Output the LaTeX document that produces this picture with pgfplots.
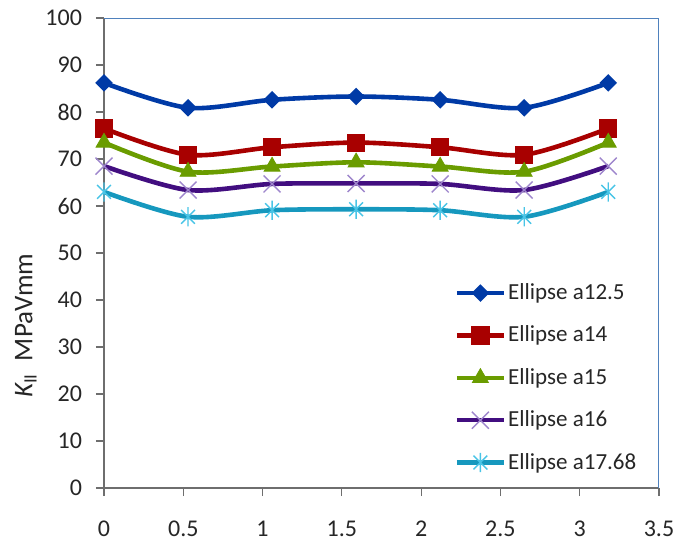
\documentclass[border=0pt]{standalone}
\usepackage{pgfplots}
\pgfplotsset{compat=1.18}
\usepackage{fontspec}
\setmainfont{Carlito}
\usetikzlibrary{plotmarks}

\definecolor{cBlue}{RGB}{0,58,166}
\definecolor{cRed}{RGB}{168,0,0}
\definecolor{cGreen}{RGB}{106,156,0}
\definecolor{cPurple}{RGB}{66,14,128}
\definecolor{cPurpleM}{RGB}{158,134,204}
\definecolor{cCyan}{RGB}{22,152,190}
\definecolor{cCyanM}{RGB}{72,196,230}
\definecolor{frameBlue}{RGB}{79,129,189}
\definecolor{axisGray}{RGB}{110,110,110}

% square-proportioned diamond
\pgfdeclareplotmark{sqdiamond}{%
  \pgfpathmoveto{\pgfqpoint{0pt}{\pgfplotmarksize}}%
  \pgfpathlineto{\pgfqpoint{\pgfplotmarksize}{0pt}}%
  \pgfpathlineto{\pgfqpoint{0pt}{-\pgfplotmarksize}}%
  \pgfpathlineto{\pgfqpoint{-\pgfplotmarksize}{0pt}}%
  \pgfpathclose\pgfusepathqfill}
% vertical bar plus diagonal cross
\pgfdeclareplotmark{xstar}{%
  \pgfpathmoveto{\pgfqpoint{0pt}{\pgfplotmarksize}}%
  \pgfpathlineto{\pgfqpoint{0pt}{-\pgfplotmarksize}}%
  \pgfpathmoveto{\pgfqpoint{-.72\pgfplotmarksize}{-.72\pgfplotmarksize}}%
  \pgfpathlineto{\pgfqpoint{.72\pgfplotmarksize}{.72\pgfplotmarksize}}%
  \pgfpathmoveto{\pgfqpoint{-.72\pgfplotmarksize}{.72\pgfplotmarksize}}%
  \pgfpathlineto{\pgfqpoint{.72\pgfplotmarksize}{-.72\pgfplotmarksize}}%
  \pgfusepathqstroke}

\pgfplotstableread{
x      a125  a14   a15   a16   a1768
0      86.2  76.5  73.5  68.5  63.0
0.53   80.9  70.9  67.3  63.4  57.7
1.06   82.6  72.5  68.4  64.7  59.1
1.59   83.3  73.5  69.3  64.8  59.3
2.12   82.6  72.5  68.4  64.7  59.1
2.65   80.9  70.9  67.3  63.4  57.7
3.18   86.2  76.5  73.5  68.5  63.0
}\kdata

\begin{document}
\begin{tikzpicture}
\begin{axis}[
  scale only axis,
  width=277.5pt, height=235pt,
  xmin=0, xmax=3.5, ymin=0, ymax=100,
  xtick={0,0.5,...,3.5},
  ytick={0,10,...,100},
  axis lines=left,
  axis line style={-, draw=axisGray, line width=0.6pt},
  tick align=outside,
  major tick length=4pt,
  tick style={axisGray, line width=0.6pt},
  ticklabel style={font=\fontsize{12}{14}\selectfont, text=black!85},
  /pgf/number format/assume math mode=true,
  xticklabel style={yshift=-9pt},
  xticklabel={\pgfmathprintnumber[fixed,precision=1]{\tick}},
  yticklabel style={xshift=-3.5pt},
  ylabel={{\itshape K}\textsubscript{II}\ \ MPaVmm},
  ylabel style={at={(ticklabel cs:0.345)}, font=\fontsize{13.5}{15}\selectfont, text=black!85, yshift=-2.5pt},
  every axis plot/.append style={line width=2.3pt, smooth, tension=0.5},
  legend style={at={(rel axis cs:0.631,0.44)}, anchor=north west,
    draw=none, fill=none, font=\fontsize{11.5}{13}\selectfont,
    row sep=9.7pt, inner sep=0pt,
    nodes={inner sep=1pt, text=black!85}},
  legend cell align=left,
  legend image code/.code={%
    \draw[mark repeat=2,mark phase=2] plot coordinates {(0pt,0pt) (11.75pt,0pt) (23.5pt,0pt)};},
]
\addplot[cBlue, mark=sqdiamond, mark size=4.4pt, mark options={solid, fill=cBlue}]
  table[x=x, y=a125] {\kdata};
\addlegendentry{Ellipse a12.5}
\addplot[cRed, mark=square*, mark size=4.3pt, mark options={solid, fill=cRed, draw=cRed, line width=0.4pt}]
  table[x=x, y=a14] {\kdata};
\addlegendentry{Ellipse a14}
\addplot[cGreen, mark=triangle*, mark size=4.6pt, mark options={solid, fill=cGreen, draw=cGreen, line width=0.4pt}]
  table[x=x, y=a15] {\kdata};
\addlegendentry{Ellipse a15}
\addplot[cPurple, mark=x, mark size=6pt, mark options={solid, draw=cPurpleM, line width=0.7pt}]
  table[x=x, y=a16] {\kdata};
\addlegendentry{Ellipse a16}
\addplot[cCyan, mark=xstar, mark size=4.8pt, mark options={solid, draw=cCyanM, line width=0.7pt}]
  table[x=x, y=a1768] {\kdata};
\addlegendentry{Ellipse a17.68}
% top and right sides of the plot frame
\draw[frameBlue, line width=0.8pt] (rel axis cs:0,1) -- (rel axis cs:1,1) -- (rel axis cs:1,0);
\end{axis}
\pgfresetboundingbox
\useasboundingbox (-52pt,-30pt) rectangle (291.5pt,244pt);
\end{tikzpicture}
\end{document}
